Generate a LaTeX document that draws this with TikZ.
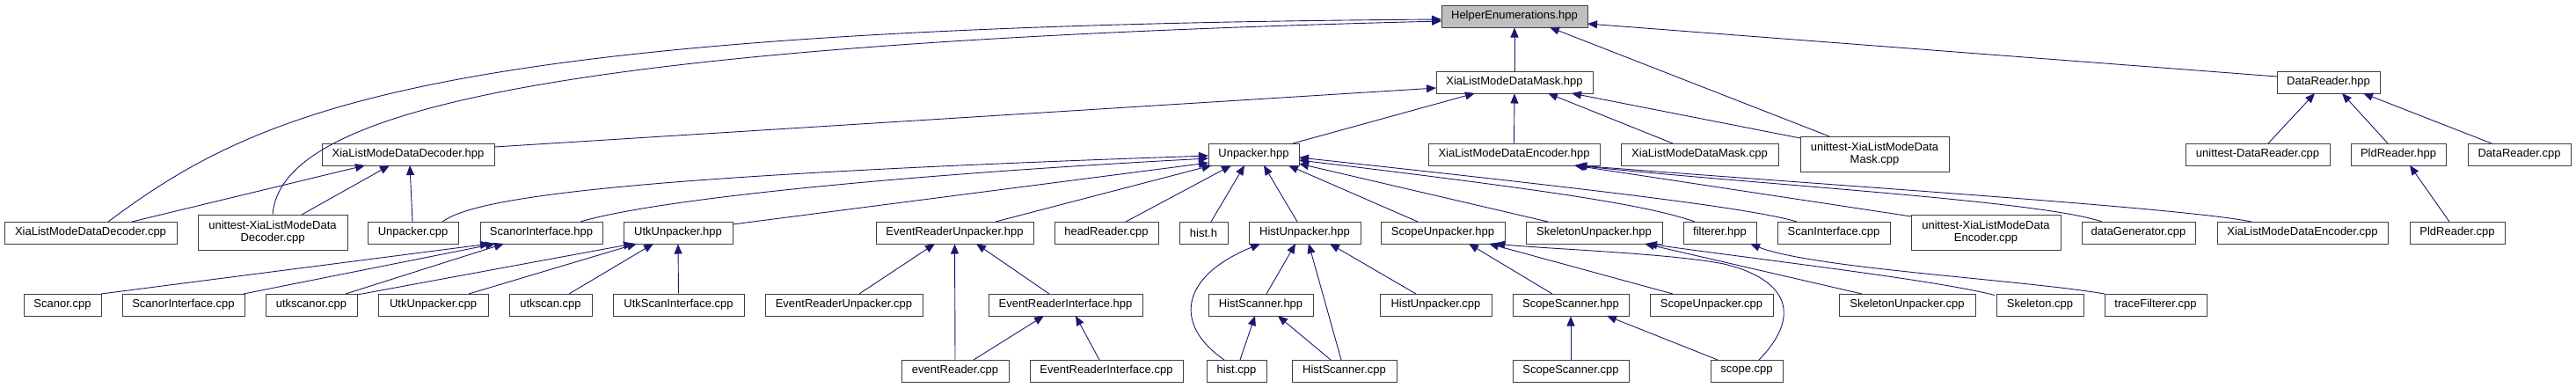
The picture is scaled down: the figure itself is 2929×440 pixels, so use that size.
\documentclass[tikz,border=0pt]{standalone}
\usepackage{fontspec}
\setmainfont{Liberation Sans}
\usetikzlibrary{arrows.meta,calc}
\definecolor{edgec}{HTML}{191970}
\definecolor{bordc}{HTML}{404040}
\definecolor{hefill}{HTML}{BFBFBF}
\begin{document}
\begin{tikzpicture}[x=1pt,y=-1pt,font=\fontsize{13}{14}\selectfont,
  box/.style={draw=bordc,line width=1pt,fill=white,minimum height=25pt,inner sep=0pt,align=center,text=black},
  tall/.style={box,minimum height=40pt},
  e/.style={draw=edgec,line width=0.9pt,-{Triangle[length=11pt,width=9pt]}}]
\useasboundingbox (0,0) rectangle (2929,440);
\fill[white] (0,0) rectangle (2929,440);
% row 0-1
\node[box,fill=hefill,minimum width=166pt] (he) at (1722,18.5) {HelperEnumerations.hpp};
\node[box,minimum width=178pt] (mask) at (1722,93.5) {XiaListModeDataMask.hpp};
\node[box,minimum width=117pt] (dr) at (2647.5,93.5) {DataReader.hpp};
% row 2
\node[box,minimum width=196pt] (dech) at (464,175.5) {XiaListModeDataDecoder.hpp};
\node[box,minimum width=103pt] (unp) at (1425.5,175.5) {Unpacker.hpp};
\node[box,minimum width=195pt] (ench) at (1721.5,175.5) {XiaListModeDataEncoder.hpp};
\node[box,minimum width=179pt] (maskcpp) at (1932.5,175.5) {XiaListModeDataMask.cpp};
\node[tall,minimum width=169pt] (utmask) at (2131.5,175) {unittest-XiaListModeData\\Mask.cpp};
\node[box,minimum width=164pt] (utdr) at (2567,175.5) {unittest-DataReader.cpp};
\node[box,minimum width=108pt] (pldh) at (2727,175.5) {PldReader.hpp};
\node[box,minimum width=117pt] (drcpp) at (2864.5,175.5) {DataReader.cpp};
% row 3
\node[box,minimum width=196pt] (deccpp) at (103,264.5) {XiaListModeDataDecoder.cpp};
\node[tall,minimum width=170pt] (utdec) at (310,264) {unittest-XiaListModeData\\Decoder.cpp};
\node[box,minimum width=103pt] (unpcpp) at (469.5,264.5) {Unpacker.cpp};
\node[box,minimum width=139pt] (scih) at (615.5,264.5) {ScanorInterface.hpp};
\node[box,minimum width=124pt] (utkh) at (771,264.5) {UtkUnpacker.hpp};
\node[box,minimum width=179pt] (erunph) at (1085.5,264.5) {EventReaderUnpacker.hpp};
\node[box,minimum width=118pt] (headr) at (1258,264.5) {headReader.cpp};
\node[box,minimum width=55pt] (histh) at (1368.5,264.5) {hist.h};
\node[box,minimum width=127pt] (histunph) at (1483.5,264.5) {HistUnpacker.hpp};
\node[box,minimum width=141pt] (scopeunph) at (1640.5,264.5) {ScopeUnpacker.hpp};
\node[box,minimum width=155pt] (skelh) at (1812.5,264.5) {SkeletonUnpacker.hpp};
\node[box,minimum width=83pt] (filth) at (1955.5,264.5) {filterer.hpp};
\node[box,minimum width=128pt] (scanint) at (2085,264.5) {ScanInterface.cpp};
\node[tall,minimum width=170pt] (utenc) at (2258,264) {unittest-XiaListModeData\\Encoder.cpp};
\node[box,minimum width=129pt] (datagen) at (2431.5,264.5) {dataGenerator.cpp};
\node[box,minimum width=194pt] (enccpp) at (2618,264.5) {XiaListModeDataEncoder.cpp};
\node[box,minimum width=108pt] (pldcpp) at (2794,264.5) {PldReader.cpp};
% row 4
\node[box,minimum width=88pt] (scanor) at (71,346.5) {Scanor.cpp};
\node[box,minimum width=139pt] (scicpp) at (208.5,346.5) {ScanorInterface.cpp};
\node[box,minimum width=104pt] (utkscanor) at (354,346.5) {utkscanor.cpp};
\node[box,minimum width=125pt] (utkcpp) at (492.5,346.5) {UtkUnpacker.cpp};
\node[box,minimum width=94pt] (utkscan) at (626,346.5) {utkscan.cpp};
\node[box,minimum width=149pt] (utksi) at (771.5,346.5) {UtkScanInterface.cpp};
\node[box,minimum width=179pt] (erunpcpp) at (959.5,346.5) {EventReaderUnpacker.cpp};
\node[box,minimum width=175pt] (erih) at (1211.5,346.5) {EventReaderInterface.hpp};
\node[box,minimum width=119pt] (histscanh) at (1433.5,346.5) {HistScanner.hpp};
\node[box,minimum width=127pt] (histunpcpp) at (1632.5,346.5) {HistUnpacker.cpp};
\node[box,minimum width=132pt] (scopescanh) at (1786,346.5) {ScopeScanner.hpp};
\node[box,minimum width=140pt] (scopeunpcpp) at (1946,346.5) {ScopeUnpacker.cpp};
\node[box,minimum width=155pt] (skelcpp) at (2168.5,346.5) {SkeletonUnpacker.cpp};
\node[box,minimum width=99pt] (skeleton) at (2319.5,346.5) {Skeleton.cpp};
\node[box,minimum width=116pt] (tracef) at (2451,346.5) {traceFilterer.cpp};
% row 5
\node[box,minimum width=122pt] (evreader) at (1086,421.5) {eventReader.cpp};
\node[box,minimum width=174pt] (ericpp) at (1258,421.5) {EventReaderInterface.cpp};
\node[box,minimum width=68pt] (histcpp) at (1406,421.5) {hist.cpp};
\node[box,minimum width=119pt] (histscancpp) at (1528.5,421.5) {HistScanner.cpp};
\node[box,minimum width=132pt] (scopescancpp) at (1786,421.5) {ScopeScanner.cpp};
\node[box,minimum width=82pt] (scopecpp) at (1986,421.5) {scope.cpp};
% edges to HelperEnumerations
\draw[e] (mask.north) -- (he.south);
\draw[e] ($(deccpp)+(20,-12.5)$) .. controls (300,120) and (500,30) .. ($(he)+(-83,3.5)$);
\draw[e] (utdec.north) .. controls (320,130) and (600,50) .. ($(he)+(-83,5.5)$);
\draw[e] ($(utmask)+(-51.5,-20)$) -- ($(he)+(40,12.5)$);
\draw[e] ($(dr)+(-58.5,-6.5)$) -- ($(he)+(83,8.5)$);
% edges to mask
\draw[e] ($(dech)+(98,-8.5)$) -- ($(mask)+(-89,6.5)$);
\draw[e] ($(unp)+(44.5,-12.5)$) -- ($(mask)+(-45,12.5)$);
\draw[e] (ench.north) -- (mask.south);
\draw[e] ($(maskcpp)+(-30.5,-12.5)$) -- ($(mask)+(38,12.5)$);
\draw[e] ($(utmask)+(-84.5,-18)$) -- ($(mask)+(65,12.5)$);
% decoder hpp
\draw[e] ($(deccpp)+(47,-12.5)$) -- ($(dech)+(-49,12.5)$);
\draw[e] ($(utdec)+(33,-20)$) -- ($(dech)+(-21,12.5)$);
\draw[e] ($(unpcpp)+(-0.5,-12.5)$) -- ($(dech)+(2,12.5)$);
% Unpacker.hpp
\draw[e] ($(unpcpp)+(33.5,-12.5)$) .. controls (540,225) and (700,200) .. ($(unp)+(-51.5,1.5)$);
\draw[e] ($(scih)+(44.5,-12.5)$) .. controls (740,228) and (1000,200) .. ($(unp)+(-51.5,4.5)$);
\draw[e] ($(utkh)+(62,-9.5)$) -- ($(unp)+(-51.5,9.5)$);
\draw[e] ($(erunph)+(46.5,-12.5)$) -- ($(unp)+(-48,12.5)$);
\draw[e] ($(headr)+(22,-12.5)$) -- ($(unp)+(-25.5,12.5)$);
\draw[e] ($(histh)+(8.5,-12.5)$) -- ($(unp)+(-10.5,12.5)$);
\draw[e] ($(histunph)+(-8.5,-12.5)$) -- ($(unp)+(11.5,12.5)$);
\draw[e] ($(scopeunph)+(-28.5,-12.5)$) -- ($(unp)+(39.5,12.5)$);
\draw[e] ($(skelh)+(-52.5,-12.5)$) -- ($(unp)+(51.5,10.5)$);
\draw[e] ($(filth)+(-28.5,-12.5)$) .. controls (1870,232) and (1750,215) .. ($(unp)+(51.5,6.5)$);
\draw[e] ($(scanint)+(-42,-12.5)$) .. controls (1990,236) and (1800,214) .. ($(unp)+(51.5,3.5)$);
% encoder hpp
\draw[e] ($(utenc)+(-85,-18)$) -- ($(ench)+(68.5,12.5)$);
\draw[e] ($(datagen)+(-41.5,-12.5)$) .. controls (2320,228) and (2000,210) .. ($(ench)+(70,12.5)$);
\draw[e] ($(enccpp)+(-58,-12.5)$) .. controls (2480,236) and (2100,212) .. ($(ench)+(72,12.5)$);
% ScanorInterface / UtkUnpacker
\draw[e] ($(scanor)+(44,-12.5)$) -- ($(scih)+(-58.5,12.5)$);
\draw[e] ($(scicpp)+(68.5,-12.5)$) -- ($(scih)+(-52.5,12.5)$);
\draw[e] ($(utkscanor)+(39,-12.5)$) -- ($(scih)+(-42.5,12.5)$);
\draw[e] ($(utkscanor)+(52,-11.5)$) -- ($(utkh)+(-51,12.5)$);
\draw[e] ($(utkcpp)+(40.5,-12.5)$) -- ($(utkh)+(-47,12.5)$);
\draw[e] ($(utkscan)+(21,-12.5)$) -- ($(utkh)+(-28,12.5)$);
\draw[e] (utksi.north) -- (utkh.south);
% EventReader
\draw[e] ($(erunpcpp)+(17.5,-12.5)$) -- ($(erunph)+(-22.5,12.5)$);
\draw[e] (evreader.north) -- (erunph.south);
\draw[e] ($(erih)+(-18.5,-12.5)$) -- ($(erunph)+(24.5,12.5)$);
\draw[e] ($(evreader)+(21,-12.5)$) -- ($(erih)+(-24.5,12.5)$);
\draw[e] ($(ericpp)+(-8,-12.5)$) -- ($(erih)+(11.5,12.5)$);
% Hist
\draw[e] ($(histscanh)+(6.5,-12.5)$) -- ($(histunph)+(-10.5,12.5)$);
\draw[e] ($(histcpp)+(-14,-12.5)$) .. controls (1335,370) and (1340,315) .. ($(histunph)+(-50.5,12.5)$);
\draw[e] ($(histscancpp)+(-3.5,-12.5)$) -- ($(histunph)+(4.5,12.5)$);
\draw[e] ($(histunpcpp)+(-22.5,-12.5)$) -- ($(histunph)+(28.5,12.5)$);
\draw[e] ($(histcpp)+(4,-12.5)$) -- ($(histscanh)+(-6.5,12.5)$);
\draw[e] ($(histscancpp)+(-15.5,-12.5)$) -- ($(histscanh)+(19.5,12.5)$);
% Scope
\draw[e] ($(scopescanh)+(-21,-12.5)$) -- ($(scopeunph)+(29.5,12.5)$);
\draw[e] ($(scopeunpcpp)+(-44,-12.5)$) -- ($(scopeunph)+(52.5,12.5)$);
\draw[e] ($(scopecpp)+(14,-12.5)$) .. controls (2048,360) and (2035,318) .. (1960,300) .. controls (1900,288) and (1760,283) .. ($(scopeunph)+(59.5,12.5)$);
\draw[e] (scopescancpp.north) -- (scopescanh.south);
\draw[e] ($(scopecpp)+(-33,-12.5)$) -- ($(scopescanh)+(41,12.5)$);
% Skeleton / filterer
\draw[e] ($(skelcpp)+(-51.5,-12.5)$) -- ($(skelh)+(57.5,12.5)$);
\draw[e] ($(skeleton)+(-51.5,-11)$) .. controls (2200,318) and (2000,295) .. ($(skelh)+(60.5,12.5)$);
\draw[e] ($(tracef)+(-58,-12.5)$) .. controls (2300,318) and (2060,305) .. ($(filth)+(34.5,12.5)$);
% DataReader
\draw[e] ($(utdr)+(12,-12.5)$) -- ($(dr)+(-15.5,12.5)$);
\draw[e] ($(pldh)+(-12,-12.5)$) -- ($(dr)+(15.5,12.5)$);
\draw[e] ($(drcpp)+(-31.5,-12.5)$) -- ($(dr)+(39.5,12.5)$);
\draw[e] ($(pldcpp)+(-9,-12.5)$) -- ($(pldh)+(13,12.5)$);
\end{tikzpicture}
\end{document}
